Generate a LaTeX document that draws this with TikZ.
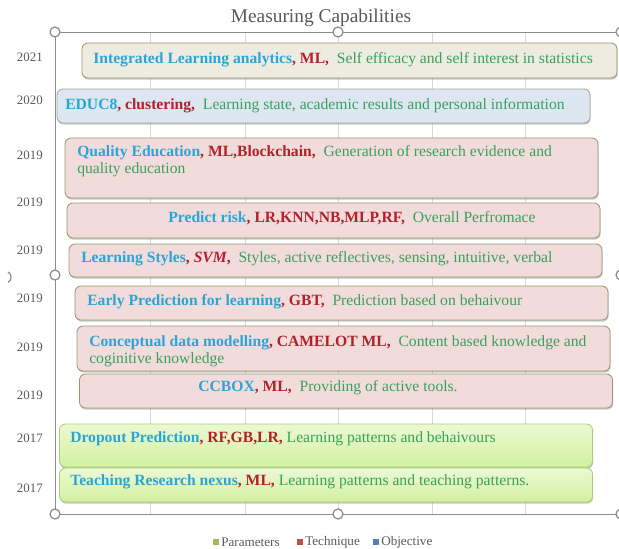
\documentclass[tikz,border=0pt]{standalone}
\usepackage{fontspec}
\setmainfont{Liberation Serif}
\usepackage{xcolor}
\usepackage{tikz}
\usetikzlibrary{shapes.geometric,shadows}

\definecolor{objblue}{RGB}{43,164,214}
\definecolor{techred}{RGB}{178,32,42}
\definecolor{pargreen}{RGB}{56,160,92}
\definecolor{axisgray}{RGB}{89,89,89}
\definecolor{framegray}{RGB}{140,140,140}
\definecolor{gridgray}{RGB}{217,217,217}
\definecolor{barbeige}{RGB}{238,236,225}
\definecolor{barblue}{RGB}{221,231,241}
\definecolor{barpink}{RGB}{242,220,219}
\definecolor{barline}{RGB}{150,152,110}
\definecolor{blueline}{RGB}{160,170,150}
\definecolor{greentop}{RGB}{236,249,212}
\definecolor{greenbot}{RGB}{210,241,158}
\definecolor{greenline}{RGB}{170,205,120}
\definecolor{keygreen}{RGB}{155,187,89}
\definecolor{keyred}{RGB}{192,80,77}
\definecolor{keyblue}{RGB}{79,129,189}

\newcommand{\objtxt}[1]{\textcolor{objblue}{\textbf{#1}}}
\newcommand{\techtxt}[1]{\textcolor{techred}{\textbf{#1}}}
\newcommand{\partxt}[1]{\textcolor{pargreen}{#1}}

\tikzset{
  capbar/.style={shape=rectangle,rounded corners=0.06in,line width=0.6pt,minimum width=5.33in,minimum height=0.34in,inner sep=0pt,
    drop shadow={shadow xshift=0.5pt,shadow yshift=-1.2pt,opacity=0.3,fill=black!70}},
  beigebar/.style={capbar,draw=barline,fill=barbeige},
  bluebar/.style={capbar,draw=blueline,fill=barblue},
  pinkbar/.style={capbar,draw=barline,fill=barpink},
  greenbar/.style={capbar,draw=greenline,top color=greentop,bottom color=greenbot},
  bartext/.style={inner sep=0pt,anchor=west,align=left,font=\fontsize{11.3pt}{12.3pt}\selectfont},
  barmid/.style={bartext,anchor=center,align=center},
  yearlabel/.style={anchor=east,inner sep=0pt,text=axisgray,font=\fontsize{9.3pt}{11pt}\selectfont},
  titletext/.style={inner sep=0pt,text=axisgray,font=\fontsize{14pt}{16pt}\selectfont},
  legendkey/.style={shape=rectangle,inner sep=0pt,minimum size=0.06in},
  legendtext/.style={anchor=west,inner sep=0pt,text=axisgray,font=\fontsize{9.5pt}{11pt}\selectfont},
  handle/.style={shape=circle,draw=framegray,fill=white,line width=0.9pt,minimum size=0.1in,inner sep=0pt},
  frameline/.style={draw=framegray,line width=0.7pt},
  gridline/.style={draw=gridgray,line width=0.6pt}
}

\begin{document}
\begin{tikzpicture}

\useasboundingbox (0in,0in) rectangle (6.19in,-5.49in);

\path (3.21in,-0.18in) node [titletext] (title) {Measuring Capabilities};

% grid and frame
\foreach \gx in {1.50,2.45,3.38,4.32,5.25}
  \draw [gridline] (\gx in,-0.32in) -- (\gx in,-5.14in);

\coordinate (tl) at (0.55in,-0.32in);
\coordinate (tm) at (3.38in,-0.32in);
\coordinate (tr) at (6.21in,-0.32in);
\coordinate (ml) at (0.55in,-2.75in);
\coordinate (mr) at (6.21in,-2.75in);
\coordinate (bl) at (0.55in,-5.14in);
\coordinate (bm) at (3.38in,-5.14in);
\coordinate (br) at (6.21in,-5.14in);

\draw [frameline] (tl) -- (tr);
\draw [frameline] (tl) -- (bl);
\draw [frameline] (bl) -- (br);

% years
\path (0.43in,-0.57in) node [yearlabel] (y2021) {2021};
\path (0.43in,-1.00in) node [yearlabel] (y2020) {2020};
\path (0.43in,-1.55in) node [yearlabel] (y2019a) {2019};
\path (0.43in,-2.02in) node [yearlabel] (y2019b) {2019};
\path (0.43in,-2.50in) node [yearlabel] (y2019c) {2019};
\path (0.43in,-2.98in) node [yearlabel] (y2019d) {2019};
\path (0.43in,-3.47in) node [yearlabel] (y2019e) {2019};
\path (0.43in,-3.95in) node [yearlabel] (y2019f) {2019};
\path (0.43in,-4.38in) node [yearlabel] (y2017a) {2017};
\path (0.43in,-4.88in) node [yearlabel] (y2017b) {2017};

% bars
\path (3.495in,-0.605in) node [beigebar,minimum width=5.35in,minimum height=0.35in] (ila) {};
\path (3.235in,-1.06in) node [bluebar] (educ) {};
\path (3.315in,-1.68in) node [pinkbar,minimum height=0.60in] (qed) {};
\path (3.335in,-2.205in) node [pinkbar,minimum height=0.35in] (risk) {};
\path (3.355in,-2.605in) node [pinkbar,minimum height=0.33in] (lsty) {};
\path (3.415in,-3.03in) node [pinkbar] (early) {};
\path (3.435in,-3.485in) node [pinkbar,minimum height=0.45in] (cdm) {};
\path (3.46in,-3.91in) node [pinkbar] (ccbox) {};
\path (3.26in,-4.455in) node [greenbar,minimum height=0.43in] (drop) {};
\path (3.26in,-4.85in) node [greenbar] (trn) {};

% bar texts
\path (0.93in,-0.60in) node [bartext] (tila) {\objtxt{Integrated Learning analytics}\techtxt{,\ ML,}\ \ \partxt{Self efficacy and self interest in statistics}};
\path (0.65in,-1.06in) node [bartext] (teduc) {\objtxt{EDUC8}\techtxt{,\ clustering,}\ \ \partxt{Learning state, academic results and personal information}};
\path (0.77in,-1.615in) node [bartext] (tqed) {\objtxt{Quality Education}\techtxt{,\ ML,Blockchain,}\ \ \partxt{Generation of research evidence and}\\\partxt{quality education}};
\path (3.52in,-2.18in) node [barmid] (trisk) {\objtxt{Predict risk}\techtxt{,\ LR,KNN,NB,MLP,RF,}\ \ \partxt{Overall Perfromace}};
\path (0.81in,-2.59in) node [bartext] (tlsty) {\objtxt{Learning Styles}\techtxt{,\ \textit{SVM},}\ \ \partxt{Styles, active reflectives, sensing, intuitive, verbal}};
\path (0.87in,-3.02in) node [bartext] (tearly) {\objtxt{Early Prediction for learning}\techtxt{,\ GBT,}\ \ \partxt{Prediction based on behaivour}};
\path (0.89in,-3.51in) node [bartext] (tcdm) {\objtxt{Conceptual data modelling}\techtxt{,\ CAMELOT ML,}\ \ \partxt{Content based knowledge and}\\\partxt{coginitive knowledge}};
\path (3.28in,-3.88in) node [barmid] (tccbox) {\objtxt{CCBOX}\techtxt{,\ ML,}\ \ \partxt{Providing of active tools.}};
\path (0.70in,-4.39in) node [bartext] (tdrop) {\objtxt{Dropout Prediction}\techtxt{, RF,GB,LR,} \partxt{Learning patterns and behaivours}};
\path (0.70in,-4.82in) node [bartext] (ttrn) {\objtxt{Teaching Research nexus}\techtxt{, ML,} \partxt{Learning patterns and teaching patterns.}};

% selection handles
\foreach \h in {tl,tm,tr,ml,mr,bl,bm,br}
  \path (\h) node [handle] (h\h) {};
\draw [framegray,line width=0.9pt] (0.08in,-2.72in) arc (60:-60:0.06in);

% legend
\path (2.16in,-5.42in) node [legendkey,fill=keygreen] (kpar) {};
\path (2.21in,-5.42in) node [legendtext] (lpar) {Parameters};
\path (3.00in,-5.42in) node [legendkey,fill=keyred] (ktech) {};
\path (3.05in,-5.42in) node [legendtext] (ltech) {Technique};
\path (3.76in,-5.42in) node [legendkey,fill=keyblue] (kobj) {};
\path (3.81in,-5.42in) node [legendtext] (lobj) {Objective};

\end{tikzpicture}
\end{document}
